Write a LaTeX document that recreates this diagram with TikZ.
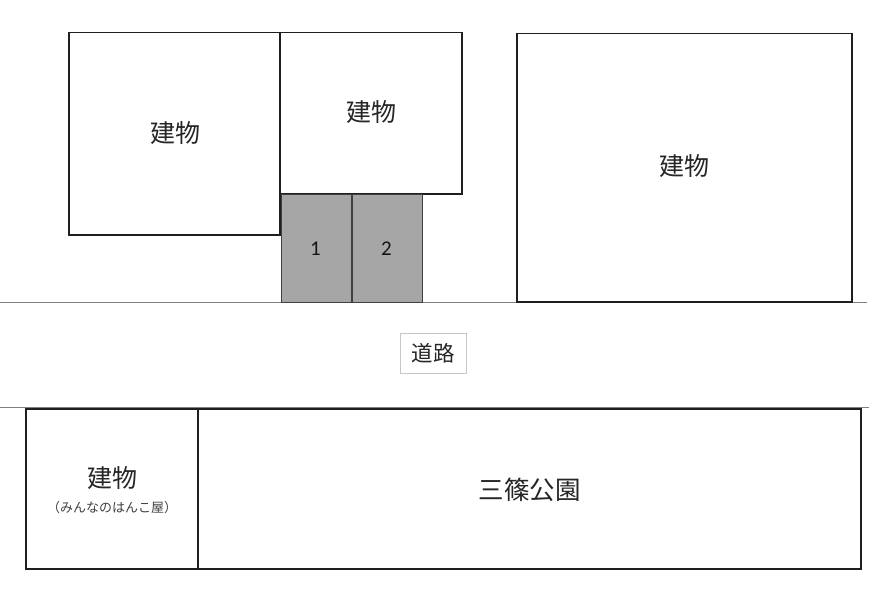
\documentclass[tikz,border=0pt]{standalone}
\usepackage{fontspec}
\newfontfamily\jpfont{Noto Sans CJK JP}
\newfontfamily\numfont{Carlito}
\begin{document}
\begin{tikzpicture}[x=1pt,y=-1pt,
  bldg/.style={draw=black!88,line width=1.3pt,fill=white},
  park/.style={draw=black!75,line width=1pt,fill=black!35},
  road/.style={draw=black!50,line width=1.5pt},
  bigtxt/.style={font=\jpfont\fontsize{25}{28}\selectfont,text=black!85},
  parktxt/.style={font=\jpfont\fontsize{25.5}{28}\selectfont,text=black!85},
  smalltxt/.style={font=\jpfont\fontsize{13}{15}\selectfont,text=black!75},
  numtxt/.style={font=\numfont\fontsize{21}{24}\selectfont,text=black!92},
  label/.style={draw=black!22,line width=0.8pt,fill=white,font=\jpfont\fontsize{21.5}{24}\selectfont,text=black!85,minimum width=66pt,minimum height=40pt,inner sep=0pt}]
\useasboundingbox (0,0) rectangle (877,594);
% road edges
\coordinate (r1l) at (0,302.5);
\coordinate (r1r) at (867,302.5);
\coordinate (r2l) at (0,407.5);
\coordinate (r2r) at (869,407.5);
\draw[road] (r1l) -- (r1r);
\draw[road] (r2l) -- (r2r);
% buildings top
\draw[bldg] (69,32.5) rectangle (280,235);
\node[bigtxt] (bA) at (175,133) {建物};
\draw[bldg] (280,32.5) rectangle (462,194);
\node[bigtxt] (bB) at (371,112) {建物};
\draw[bldg] (517,33.5) rectangle (852,302);
\node[bigtxt] (bC) at (684.5,166) {建物};
% parking
\draw[park] (281,194) rectangle (351,302);
\node[numtxt] (p1) at (315.5,249) {1};
\draw[park] (352,194) rectangle (422,302);
\node[numtxt] (p2) at (386.5,249) {2};
% road label
\node[label] (road) at (433,353) {道路};
% bottom
\draw[bldg] (26,409) rectangle (198,569);
\node[bigtxt] (bD) at (112,478) {建物};
\node[smalltxt] (bDs) at (112,508) {（みんなのはんこ屋）};
\draw[bldg] (198,409) rectangle (861,569);
\node[parktxt] (pk) at (529.5,490) {三篠公園};
\end{tikzpicture}
\end{document}
